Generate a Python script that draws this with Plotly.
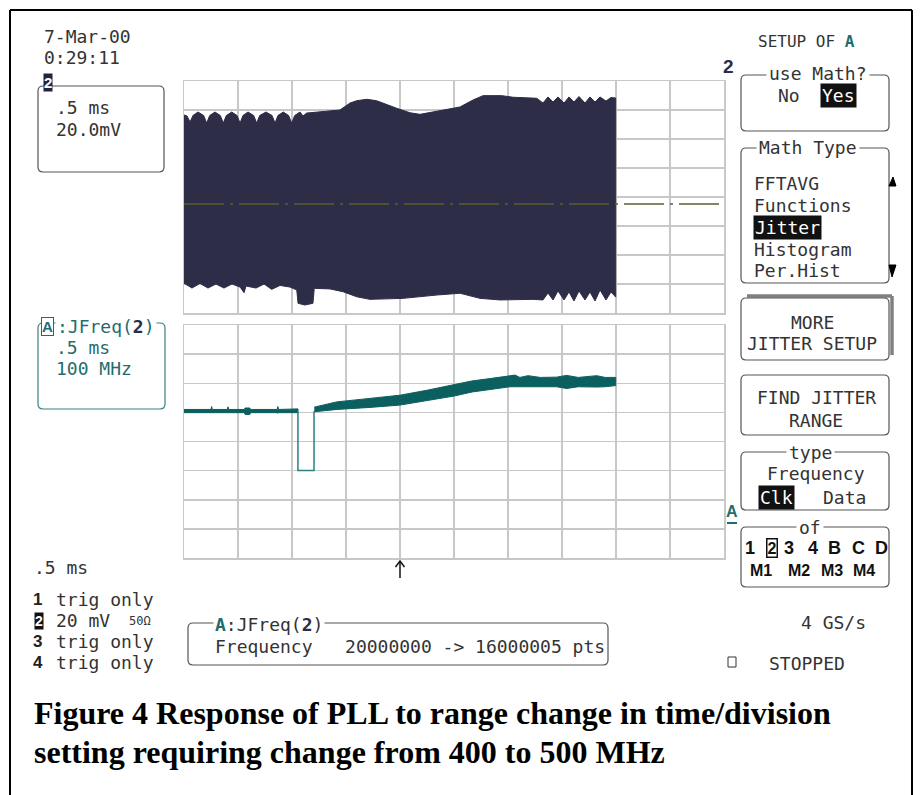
import plotly.graph_objects as go

W, H = 922, 795

# ---------------- data ----------------
# Channel 2 (upper trace), envelope of the dense waveform, 0.5 ms/div, 20 mV/div
ch2_top_t = [0.000, 0.028, 0.056, 0.083, 0.130, 0.182, 0.210, 0.238, 0.287, 0.336, 0.364, 0.392,
             0.442, 0.491, 0.519, 0.546, 0.593, 0.645, 0.673, 0.701, 0.759, 0.815, 0.843, 0.870,
             0.919, 0.969, 0.997, 1.025, 1.074, 1.102, 1.136, 1.259, 1.444, 1.537, 1.599, 1.692,
             1.784, 1.969, 2.093, 2.185, 2.306, 2.491, 2.556, 2.618, 2.676, 2.769, 2.942, 3.046,
             3.266, 3.324, 3.370, 3.417, 3.463, 3.519, 3.565, 3.611, 3.657, 3.713, 3.759, 3.806,
             3.852, 3.907, 3.954, 3.997]
ch2_top_mv = [56.6, 55.9, 51.7, 56.2, 58.6, 56.2, 51.0, 56.2, 58.6, 56.2, 51.0, 56.2,
              58.6, 56.2, 51.0, 56.2, 58.6, 56.2, 51.0, 56.2, 58.6, 56.2, 51.0, 56.2,
              58.6, 56.2, 51.0, 56.2, 58.6, 55.9, 57.9, 58.8, 60.0, 64.8, 66.4, 67.4,
              66.4, 61.2, 58.1, 57.0, 58.8, 61.2, 62.1, 64.6, 66.9, 69.9, 69.9, 68.8,
              68.1, 64.8, 69.0, 65.5, 69.0, 64.8, 69.0, 65.5, 69.3, 64.8, 69.0, 65.5,
              69.0, 66.2, 68.6, 68.3]
ch2_bot_t = [0.000, 0.074, 0.148, 0.222, 0.296, 0.370, 0.444, 0.519, 0.556, 0.574, 0.667, 0.741,
             0.812, 0.889, 0.981, 1.044, 1.056, 1.120, 1.194, 1.206, 1.352, 1.472, 1.599, 1.722,
             2.028, 2.340, 2.556, 2.741, 2.926, 3.231, 3.324, 3.370, 3.417, 3.463, 3.519, 3.565,
             3.611, 3.657, 3.713, 3.759, 3.806, 3.852, 3.907, 3.954, 3.997]
ch2_bot_mv = [-59.5, -62.8, -59.6, -62.8, -60.0, -62.8, -60.0, -62.1, -66.0, -61.4, -62.8, -60.0,
              -63.7, -61.0, -62.1, -64.1, -73.3, -74.5, -73.3, -63.0, -63.4, -65.3, -68.8, -70.6,
              -69.9, -67.6, -66.4, -69.9, -71.0, -70.6, -71.0, -66.2, -71.0, -64.8, -71.0, -65.5,
              -71.7, -64.8, -71.0, -65.5, -71.7, -64.1, -71.0, -65.5, -69.0]
ch2_ground_mv = -4.8

# Math trace A: JFreq(2) in MHz, 100 MHz/div
jf_flat_t = [0.000, 0.250, 0.256, 0.262, 0.400, 0.407, 0.414, 0.560, 0.565, 0.610, 0.615, 0.862, 0.869, 0.876, 1.055]
jf_flat_hi = [410, 410, 420, 410, 410, 419, 410, 410, 415, 415, 410, 410, 420, 410, 412]
jf_flat_lo = [399, 399, 397, 399, 399, 399, 399, 399, 393, 393, 399, 399, 397, 399, 399]
jf_dip_t = [1.055, 1.055, 1.204, 1.204]
jf_dip_mhz = [404, 200, 200, 404]
jf_ramp_t = [1.206, 1.414, 1.722, 2.000, 2.250, 2.500, 2.667, 2.833, 3.019, 3.065, 3.110, 3.185,
             3.300, 3.450, 3.543, 3.650, 3.821, 3.900, 3.997]
jf_ramp_hi = [418, 436, 448, 459, 476, 494, 508, 516, 524, 528, 520, 526, 520, 521, 527, 520, 526, 520, 520]
jf_ramp_lo = [402, 410, 417, 425, 441, 456, 470, 479, 488, 488, 488, 487, 487, 488, 482, 488, 487, 488, 492]

# ---------------- styles ----------------
NAVY = "#2d2d48"
TEAL = "#0b5f5f"
TEAL_T = "#1f6d6d"
DARK = "#333333"
GRID = "#c8c8c8"
MONO = "DejaVu Sans Mono, Liberation Mono, monospace"
BOLDS = "Liberation Sans, Arial, sans-serif"
SERIF = "Liberation Serif, Times New Roman, serif"


def X(v):
    return v / W


def Y(v):
    return 1 - v / H


fig = go.Figure()

# upper trace
fig.add_trace(go.Scatter(x=ch2_top_t + ch2_bot_t[::-1], y=ch2_top_mv + ch2_bot_mv[::-1],
                         mode="lines", fill="toself", fillcolor=NAVY,
                         line=dict(color=NAVY, width=1), xaxis="x", yaxis="y"))
fig.add_trace(go.Scatter(x=[0, 5], y=[ch2_ground_mv, ch2_ground_mv], mode="lines",
                         line=dict(color="#5c5c2c", width=1.5, dash="40px,6px,3px,6px"),
                         xaxis="x", yaxis="y"))
# lower trace
fig.add_trace(go.Scatter(x=jf_flat_t + jf_flat_t[::-1], y=jf_flat_hi + jf_flat_lo[::-1],
                         mode="lines", fill="toself", fillcolor=TEAL,
                         line=dict(color=TEAL, width=1), xaxis="x2", yaxis="y2"))
fig.add_trace(go.Scatter(x=jf_dip_t, y=jf_dip_mhz, mode="lines",
                         line=dict(color="#2f7f7f", width=1.5), xaxis="x2", yaxis="y2"))
fig.add_trace(go.Scatter(x=jf_ramp_t + jf_ramp_t[::-1], y=jf_ramp_hi + jf_ramp_lo[::-1],
                         mode="lines", fill="toself", fillcolor=TEAL,
                         line=dict(color=TEAL, width=1), xaxis="x2", yaxis="y2"))

ax_common = dict(showgrid=True, gridcolor=GRID, gridwidth=1.5, showline=True, mirror=True,
                 linecolor=GRID, linewidth=1.5, showticklabels=False, ticks="", zeroline=False,
                 fixedrange=True)

fig.update_layout(
    width=W, height=H, autosize=False,
    margin=dict(l=0, r=0, t=0, b=0),
    paper_bgcolor="white", plot_bgcolor="white",
    showlegend=False, hovermode=False,
    xaxis=dict(domain=[X(184), X(724)], range=[0, 5], dtick=0.5, anchor="y", **ax_common),
    yaxis=dict(domain=[Y(313), Y(81)], range=[-80, 80], dtick=20, anchor="x", **ax_common),
    xaxis2=dict(domain=[X(184), X(724)], range=[0, 5], dtick=0.5, anchor="y2", **ax_common),
    yaxis2=dict(domain=[Y(558), Y(325)], range=[-100, 700], dtick=100, anchor="x2", **ax_common),
)


def rrect(x0, y0, x1, y1, color="#555555", r=5, width=1.2):
    p = (f"M {X(x0 + r)},{Y(y0)} L {X(x1 - r)},{Y(y0)} Q {X(x1)},{Y(y0)} {X(x1)},{Y(y0 + r)} "
         f"L {X(x1)},{Y(y1 - r)} Q {X(x1)},{Y(y1)} {X(x1 - r)},{Y(y1)} "
         f"L {X(x0 + r)},{Y(y1)} Q {X(x0)},{Y(y1)} {X(x0)},{Y(y1 - r)} "
         f"L {X(x0)},{Y(y0 + r)} Q {X(x0)},{Y(y0)} {X(x0 + r)},{Y(y0)} Z")
    return dict(type="path", xref="paper", yref="paper", path=p, line=dict(color=color, width=width))


def pline(x0, y0, x1, y1, color="black", width=2):
    return dict(type="line", xref="paper", yref="paper", x0=X(x0), y0=Y(y0), x1=X(x1), y1=Y(y1),
                line=dict(color=color, width=width))


shapes = [
    # outer frame
    pline(10, 795, 10, 10), pline(10, 10, 912, 10), pline(912, 10, 912, 795),
    # left boxes
    rrect(38, 86, 164, 172),
    rrect(38, 323, 165, 409, color="#3b8080"),
    rrect(188, 623, 608, 665),
    # right menu
    rrect(741, 75, 889, 131),
    rrect(741, 148, 889, 283),
    pline(747, 296, 892, 296, color="#808080", width=3.5),
    pline(892, 296, 892, 355, color="#808080", width=3.5),
    rrect(741, 298, 889, 360),
    rrect(741, 375, 889, 435),
    rrect(741, 452, 889, 510),
    rrect(741, 527, 889, 587),
    # scroll arrows
    dict(type="path", xref="paper", yref="paper",
         path=f"M {X(889)},{Y(186)} L {X(896)},{Y(186)} L {X(893)},{Y(177)} Z",
         fillcolor="black", line=dict(color="black", width=1)),
    dict(type="path", xref="paper", yref="paper",
         path=f"M {X(889)},{Y(265)} L {X(896)},{Y(265)} L {X(892)},{Y(277)} Z",
         fillcolor="black", line=dict(color="black", width=1)),
    # A marker underline
    pline(727, 523, 737, 523, color=TEAL_T, width=2),
    # stopped square
    dict(type="rect", xref="paper", yref="paper", x0=X(728), x1=X(736), y0=Y(667), y1=Y(657),
         line=dict(color="#333333", width=1)),
    # trigger arrow
    pline(400, 562, 400, 578, color="#111111", width=1.5),
    dict(type="path", xref="paper", yref="paper",
         path=f"M {X(395.5)},{Y(567)} L {X(400)},{Y(561)} L {X(404.5)},{Y(567)}",
         line=dict(color="#111111", width=1.5)),
]
fig.update_layout(shapes=shapes)

ann = []


def T(x, y, text, size=18, color=DARK, xanchor="left", family=MONO, bg=None, border=None,
      pad=0, bw=1):
    d = dict(xref="paper", yref="paper", x=X(x), y=Y(y), text=text, showarrow=False,
             xanchor=xanchor, yanchor="middle", font=dict(family=family, size=size, color=color),
             borderpad=pad)
    if bg:
        d["bgcolor"] = bg
    if border:
        d["bordercolor"] = border
        d["borderwidth"] = bw
    ann.append(d)


# top-left
T(43, 37, "7-Mar-00")
T(43, 58, "0:29:11")
T(47.5, 83, "<b>2</b>", size=15, color="white", xanchor="center", family=BOLDS, bg="#23233d", pad=0)
T(55, 108, ".5 ms")
T(55, 130, "20.0mV")

# box A
T(47.5, 326, "<b>A</b>", size=15, color=TEAL_T, xanchor="center", family=BOLDS, bg="white",
  border=TEAL_T, pad=0)
T(55, 326, f":JFreq(<b><span style='color:{NAVY}'>2</span></b>)", color=TEAL_T, bg="white", pad=1)
T(55, 347, ".5 ms", color=TEAL_T)
T(55, 368, "100 MHz", color=TEAL_T)

# bottom-left list
T(33, 567, ".5 ms")
T(37.5, 599, "<b>1</b>", size=17, family=BOLDS, xanchor="center", color="#222222")
T(55, 599, "trig only")
T(38.5, 620.5, "<b>2</b>", size=14, family=BOLDS, xanchor="center", color="white", bg="#111111")
T(55, 620.5, "20 mV")
T(128, 620.5, "50Ω", size=12)
T(37.5, 641, "<b>3</b>", size=17, family=BOLDS, xanchor="center", color="#222222")
T(55, 641, "trig only")
T(37.5, 662, "<b>4</b>", size=17, family=BOLDS, xanchor="center", color="#222222")
T(55, 662, "trig only")

# bottom info box
T(213, 624, f"<b><span style='color:{TEAL_T}'>A</span></b>:JFreq(<b><span style='color:{NAVY}'>2</span></b>)",
  bg="white", pad=1)
T(214, 646, "Frequency   20000000 -> 16000005 pts")

# right menu
T(757, 42, f"SETUP OF <b><span style='color:{TEAL_T}'>A</span></b>", size=16)
T(728.5, 67, "<b>2</b>", size=19, xanchor="center", family=BOLDS, color=NAVY)
T(818, 74, "use Math?", xanchor="center", bg="white", pad=2)
T(777, 96, "No")
T(820, 96, "Yes", color="white", bg="#111111", pad=1)
T(756, 148, "Math Type", bg="white", pad=2)
T(753, 184, "FFTAVG")
T(753, 206, "Functions")
T(753, 228, "Jitter", color="white", bg="#111111", pad=1)
T(753, 250, "Histogram")
T(753, 271, "Per.Hist")
T(812, 322, "MORE", xanchor="center")
T(812, 343, "JITTER SETUP", xanchor="center")
T(816, 397, "FIND JITTER", xanchor="center")
T(816, 420, "RANGE", xanchor="center")
T(810, 452, "type", xanchor="center", bg="white", pad=2)
T(816, 473, "Frequency", xanchor="center")
T(758, 497, "Clk", color="white", bg="#111111", pad=1)
T(822, 497, "Data")
T(731.5, 511, "<b>A</b>", size=16, xanchor="center", family=BOLDS, color=TEAL_T)
T(810, 527, "of", xanchor="center", bg="white", pad=2)
for xx, lab in [(749.5, "1"), (788.5, "3"), (812.5, "4"), (834, "B"), (858.5, "C"), (881.5, "D")]:
    T(xx, 548, f"<b>{lab}</b>", size=18, xanchor="center", family=BOLDS, color="#111111")
T(771.7, 548, "<b>2</b>", size=16, xanchor="center", family=BOLDS, color="#111111",
  border="#111111", pad=0, bw=1.5)
for xx, lab in [(760.5, "M1"), (798.5, "M2"), (831.5, "M3"), (863.5, "M4")]:
    T(xx, 570, f"<b>{lab}</b>", size=16, xanchor="center", family=BOLDS, color="#111111")
T(800, 622, "4 GS/s")
T(768, 663, "STOPPED")

# caption
T(33, 713, "<b>Figure 4 Response of PLL to range change in time/division</b>", size=32,
  family=SERIF, color="black")
T(33, 752, "<b>setting requiring change from 400 to 500 MHz</b>", size=32,
  family=SERIF, color="black")

fig.update_layout(annotations=ann)
fig.write_html("out.html", post_script="document.body.style.margin='0px';",
               config={"displayModeBar": False, "staticPlot": True})
